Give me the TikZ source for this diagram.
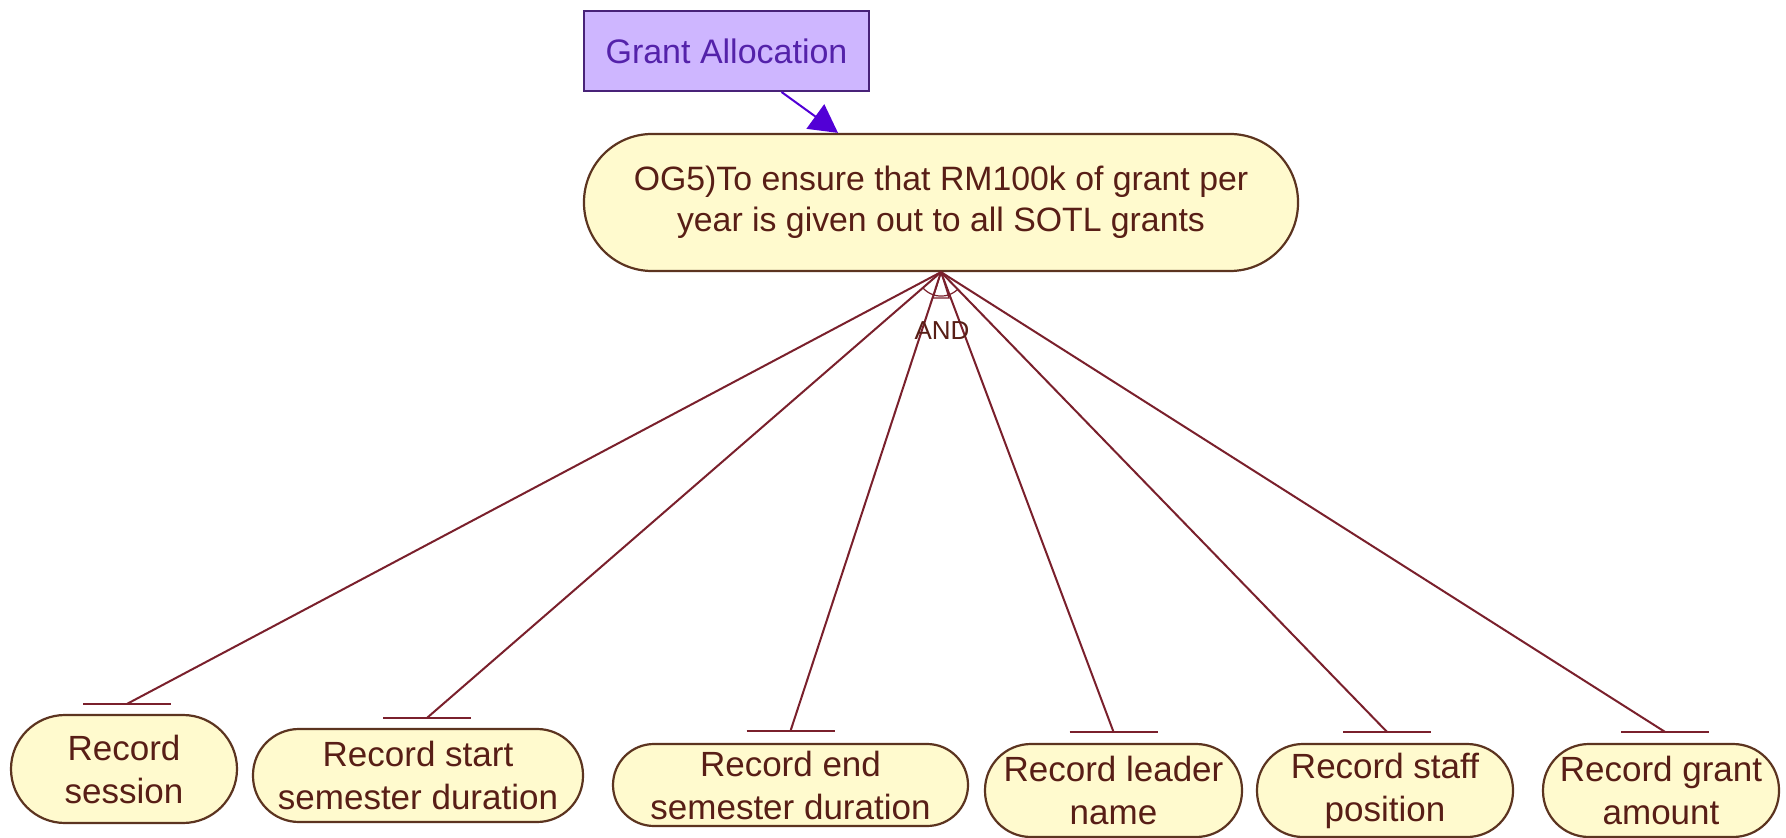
\documentclass[tikz,border=0pt]{standalone}
\usepackage{fontspec}
\setmainfont{Liberation Sans}
\usetikzlibrary{arrows.meta}
\definecolor{goalfill}{RGB}{255,250,206}
\definecolor{goalline}{RGB}{92,52,32}
\definecolor{goaltext}{RGB}{88,30,22}
\definecolor{linkline}{RGB}{122,32,44}
\definecolor{agentfill}{RGB}{206,182,255}
\definecolor{agentline}{RGB}{72,34,120}
\definecolor{agenttext}{RGB}{84,34,170}
\definecolor{arrowfill}{RGB}{82,0,214}
\begin{document}
\begin{tikzpicture}[x=0.5pt,y=-0.5pt,
  goal/.style n args={3}{draw=goalline, line width=1.1pt, fill=goalfill,
    text=goaltext, align=center, inner sep=0pt,
    minimum width=#1, minimum height=#2, rounded corners=#3},
  subtext/.style={font=\fontsize{17.5}{21.5}\selectfont},
  agent/.style={draw=agentline, line width=1pt, fill=agentfill, text=agenttext,
    inner sep=0pt, minimum width=142.5pt, minimum height=40pt,
    font=\fontsize{17}{20}\selectfont},
  link/.style={draw=linkline, line width=1pt},
  barline/.style={draw=linkline, line width=1.4pt},
  assign/.style={draw=agentline, line width=1pt,
    -{Triangle[length=14pt,width=15pt,fill=arrowfill]}, arrowfill}
]
\fill[white] (0,0) rectangle (1786,838);
\useasboundingbox (0,0) rectangle (1786,838);

% agent
\node[agent] (ga) at (726.5,51) {Grant Allocation};

% top goal
\node[goal={357pt}{68.5pt}{34pt}, font=\fontsize{16.9}{20.5}\selectfont] (main) at (941,202.5)
  {OG5)To ensure that RM100k of grant per\\year is given out to all SOTL grants};

\draw[assign] ([xshift=27.5pt]ga.south) -- ([xshift=-51.5pt]main.north);

% sub-goals
\node[goal={113pt}{54pt}{27pt}, subtext] (g1) at (124,769) {Record\\session};
\node[goal={165pt}{46.5pt}{23pt}, subtext] (g2) at (418,775.5) {Record start\\semester duration};
\node[goal={177.5pt}{41pt}{20.5pt}, subtext] (g3) at (790.5,785) {Record end\\semester duration};
\node[goal={128.5pt}{46.5pt}{23pt}, subtext] (g4) at (1113.5,790.5) {Record leader\\name};
\node[goal={128pt}{46.5pt}{23pt}, subtext] (g5) at (1385,790.5) {Record staff\\position};
\node[goal={118pt}{46.5pt}{23pt}, subtext] (g6) at (1661,790.5) {Record grant\\amount};

% decomposition end points above each sub-goal
\coordinate (b1) at ([xshift=1.5pt,yshift=5pt]g1.north);
\coordinate (b2) at ([xshift=4.5pt,yshift=5pt]g2.north);
\coordinate (b3) at ([yshift=6pt]g3.north);
\coordinate (b4) at ([yshift=5.5pt]g4.north);
\coordinate (b5) at ([xshift=1pt,yshift=5.5pt]g5.north);
\coordinate (b6) at ([xshift=2pt,yshift=5.5pt]g6.north);

% AND decomposition
\coordinate (and) at (main.south);
\foreach \n in {1,...,6}{
  \draw[link] (and) -- (b\n);
  \draw[barline] ([xshift=-22pt]b\n) -- ([xshift=22pt]b\n);
}
\draw[link, line width=0.6pt] (and) ++(-139:12pt) arc[start angle=-139, end angle=-46, radius=12pt];
\draw[link, line width=0.6pt] (and) -- ++(-4pt,-13pt) -- ++(8pt,0pt) -- cycle;
\node[text=goaltext, font=\fontsize{13}{15}\selectfont, inner sep=0pt] (andlabel) at (942,331) {AND};
\end{tikzpicture}
\end{document}
